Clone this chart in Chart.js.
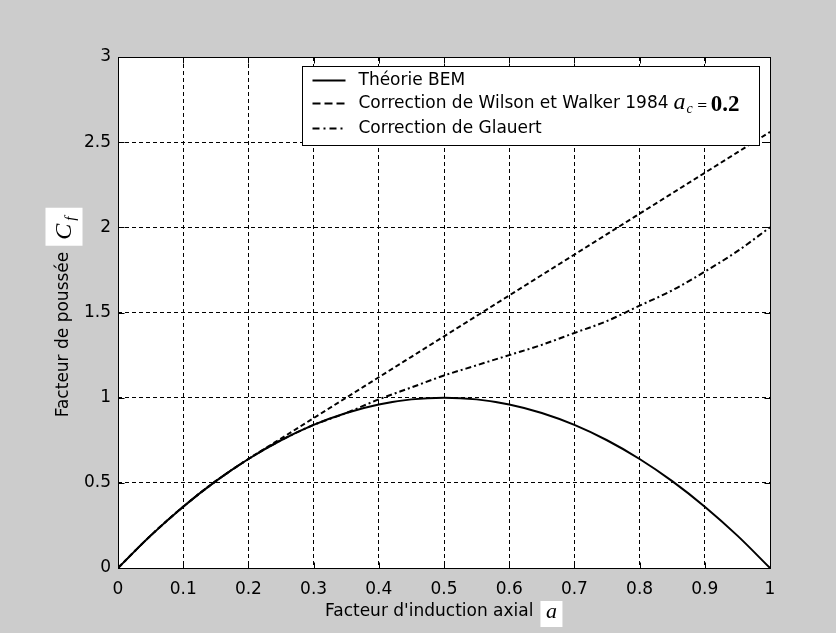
<!DOCTYPE html>
<html>
<head>
<meta charset="utf-8">
<title>Facteur de poussée</title>
<script src="https://cdn.jsdelivr.net/npm/chart.js@4.4.1/dist/chart.umd.min.js"></script>
<style>
  html, body { margin: 0; padding: 0; background: #cccccc; }
  #wrap { width: 836px; height: 633px; }
</style>
</head>
<body>
<div id="wrap"><canvas id="thrust" width="836" height="633"></canvas></div>
<script>
// axial induction factor a
const inductionA = [0, 0.05, 0.1, 0.15, 0.2, 0.25, 0.3, 0.35, 0.4, 0.45, 0.5,
                    0.55, 0.6, 0.65, 0.7, 0.75, 0.8, 0.85, 0.9, 0.95, 1];
// thrust coefficient Ct for each model
const bemCt     = [0, 0.19, 0.36, 0.51, 0.64, 0.75, 0.84, 0.91, 0.96, 0.99, 1.00,
                   0.99, 0.96, 0.91, 0.84, 0.75, 0.64, 0.51, 0.36, 0.19, 0];
const wilsonCt  = [0, 0.19, 0.36, 0.51, 0.64, 0.76, 0.88, 1.00, 1.12, 1.24, 1.36,
                   1.48, 1.60, 1.72, 1.84, 1.96, 2.08, 2.20, 2.32, 2.44, 2.56];
const glauertCt = [0, 0.19, 0.36, 0.51, 0.64, 0.75, 0.84, 0.91, 0.99, 1.06, 1.13,
                   1.19, 1.25, 1.31, 1.38, 1.45, 1.54, 1.63, 1.74, 1.86, 2.00];

const xTicks = [0, 0.1, 0.2, 0.3, 0.4, 0.5, 0.6, 0.7, 0.8, 0.9, 1];
const yTicks = [0, 0.5, 1, 1.5, 2, 2.5, 3];

const seriesLabels = ['Théorie BEM', 'Correction de Wilson et Walker 1984', 'Correction de Glauert'];
const seriesDash = [[], [8, 4], [7, 4, 2, 4]];

const SANS = 'DejaVu Sans';
const SERIF = 'Liberation Serif';

Chart.defaults.font.family = SANS;
Chart.defaults.font.size = 17;
Chart.defaults.color = '#000';

function points(ys) {
    return inductionA.map((a, i) => ({ x: a, y: ys[i] }));
}

function fmt(v) {
    return String(Number(v.toFixed(2)));
}

// white box holding an italic math symbol, like the axis symbols a and Cf
function mathBox(ctx, x, y, w, h) {
    ctx.fillStyle = '#fff';
    ctx.fillRect(x, y, w, h);
    ctx.fillStyle = '#000';
}

const frame = {
    id: 'frame',
    beforeDraw(chart) {
        const { ctx, chartArea: ca } = chart;
        ctx.save();
        ctx.fillStyle = '#cccccc';
        ctx.fillRect(0, 0, chart.width, chart.height);
        ctx.fillStyle = '#fff';
        ctx.fillRect(ca.left, ca.top, ca.right - ca.left, ca.bottom - ca.top);
        ctx.restore();
    },
    afterDraw(chart) {
        const { ctx, chartArea: ca, scales } = chart;
        const L = Math.round(ca.left) + 0.5, R = Math.round(ca.right) + 0.5;
        const T = Math.round(ca.top) + 0.5, B = Math.round(ca.bottom) + 0.5;
        ctx.save();
        ctx.strokeStyle = '#000';
        ctx.lineWidth = 1;
        ctx.setLineDash([]);

        // inward ticks on all four sides
        const tl = 6;
        ctx.beginPath();
        xTicks.forEach(v => {
            const px = Math.round(scales.x.getPixelForValue(v)) + 0.5;
            ctx.moveTo(px, B); ctx.lineTo(px, B - tl);
            ctx.moveTo(px, T); ctx.lineTo(px, T + tl);
        });
        yTicks.forEach(v => {
            const py = Math.round(scales.y.getPixelForValue(v)) + 0.5;
            ctx.moveTo(L, py); ctx.lineTo(L + tl, py);
            ctx.moveTo(R, py); ctx.lineTo(R - tl, py);
        });
        ctx.stroke();
        ctx.strokeRect(L, T, R - L, B - T);

        drawLegend(ctx, ca);
        drawTitles(ctx, ca);
        ctx.restore();
    }
};

function drawLegend(ctx, ca) {
    const x = Math.round(ca.left) + 184.5;
    const y = Math.round(ca.top) + 9.5;
    const w = Math.round(ca.right) - 11 - x + 0.5;
    const h = 79;
    ctx.fillStyle = '#fff';
    ctx.fillRect(x, y, w, h);
    ctx.strokeStyle = '#000';
    ctx.lineWidth = 1;
    ctx.setLineDash([]);
    ctx.strokeRect(x, y, w, h);

    const rows = [14, 37, 62];
    ctx.textBaseline = 'middle';
    ctx.textAlign = 'left';
    seriesLabels.forEach((label, i) => {
        const ry = y + rows[i];
        ctx.beginPath();
        ctx.lineWidth = 2;
        ctx.setLineDash(seriesDash[i]);
        ctx.moveTo(x + 10, ry);
        ctx.lineTo(x + 43, ry);
        ctx.stroke();
        ctx.setLineDash([]);
        ctx.font = '17px "' + SANS + '"';
        ctx.fillStyle = '#000';
        ctx.fillText(label, x + 56, ry);
        if (i === 1) {
            // a_c = 0.2
            let cx = x + 56 + ctx.measureText(label).width + 5;
            ctx.textBaseline = 'alphabetic';
            const base = ry + 5;
            ctx.font = 'italic 24px "' + SERIF + '"';
            ctx.fillText('a', cx, base);
            cx += ctx.measureText('a').width + 1;
            ctx.font = 'italic 14px "' + SERIF + '"';
            ctx.fillText('c', cx, base + 4);
            cx += ctx.measureText('c').width + 4;
            ctx.font = '13px "' + SANS + '"';
            ctx.fillText('=', cx, base);
            cx += ctx.measureText('=').width + 3;
            ctx.font = 'bold 23px "' + SERIF + '"';
            ctx.fillText('0.2', cx, base + 2);
            ctx.textBaseline = 'middle';
        }
    });
}

function drawTitles(ctx, ca) {
    const midX = (ca.left + ca.right) / 2;
    const midY = (ca.top + ca.bottom) / 2;

    // x axis title: text + boxed italic a
    ctx.font = '17px "' + SANS + '"';
    ctx.textBaseline = 'middle';
    ctx.textAlign = 'left';
    const xt = "Facteur d'induction axial";
    const xw = ctx.measureText(xt).width;
    const bw = 22, bh = 26, gap = 7;
    let sx = Math.round(midX - (xw + gap + bw) / 2);
    const ty = ca.bottom + 44;
    ctx.fillStyle = '#000';
    ctx.fillText(xt, sx, ty);
    const bx = sx + xw + gap;
    mathBox(ctx, bx, ty - 11, bw, bh);
    ctx.font = 'italic 22px "' + SERIF + '"';
    ctx.textAlign = 'center';
    ctx.textBaseline = 'alphabetic';
    ctx.fillText('a', bx + bw / 2, ty + 6);

    // y axis title, rotated: text + boxed italic Cf
    ctx.save();
    ctx.translate(64, midY);
    ctx.rotate(-Math.PI / 2);
    ctx.font = '17px "' + SANS + '"';
    ctx.textAlign = 'left';
    ctx.textBaseline = 'middle';
    const yt = 'Facteur de poussée';
    const yw = ctx.measureText(yt).width;
    const cw = 38, ch = 37, cg = 6;
    const sy = -(yw + cg + cw) / 2;
    ctx.fillStyle = '#000';
    ctx.fillText(yt, sy, 0);
    const cbx = sy + yw + cg;
    mathBox(ctx, cbx, -ch / 2, cw, ch);
    ctx.textBaseline = 'alphabetic';
    ctx.font = 'italic 24px "' + SERIF + '"';
    ctx.fillText('C', cbx + 6, 7);
    ctx.font = 'italic 15px "' + SERIF + '"';
    ctx.fillText('f', cbx + 25, 11);
    ctx.restore();
}

const lineStyle = {
    borderColor: '#000',
    borderWidth: 2,
    pointRadius: 0,
    fill: false,
    cubicInterpolationMode: 'monotone'
};

new Chart(document.getElementById('thrust'), {
    type: 'line',
    data: {
        datasets: [
            { ...lineStyle, label: seriesLabels[0], data: points(bemCt), borderDash: seriesDash[0] },
            { ...lineStyle, label: seriesLabels[1], data: points(wilsonCt), borderDash: [5, 3] },
            { ...lineStyle, label: seriesLabels[2], data: points(glauertCt), borderDash: [6, 3, 2, 3] }
        ]
    },
    options: {
        responsive: false,
        animation: false,
        devicePixelRatio: 1,
        layout: { padding: { top: 57, right: 66, left: 0, bottom: 0 } },
        plugins: { legend: { display: false }, tooltip: { enabled: false } },
        scales: {
            x: {
                type: 'linear',
                min: 0, max: 1,
                afterBuildTicks: s => { s.ticks = xTicks.map(v => ({ value: v })); },
                afterFit: s => { s.height = 65; },
                ticks: { padding: 11, maxRotation: 0, autoSkip: false, callback: fmt },
                grid: { color: '#000', lineWidth: 1, drawTicks: false },
                border: { display: false, dash: [4, 3] }
            },
            y: {
                type: 'linear',
                min: 0, max: 3,
                afterBuildTicks: s => { s.ticks = yTicks.map(v => ({ value: v })); },
                afterFit: s => { s.width = 118; },
                ticks: { padding: 7, autoSkip: false, callback: fmt },
                grid: { color: '#000', lineWidth: 1, drawTicks: false },
                border: { display: false, dash: [4, 3] }
            }
        }
    },
    plugins: [frame]
});
</script>
</body>
</html>
